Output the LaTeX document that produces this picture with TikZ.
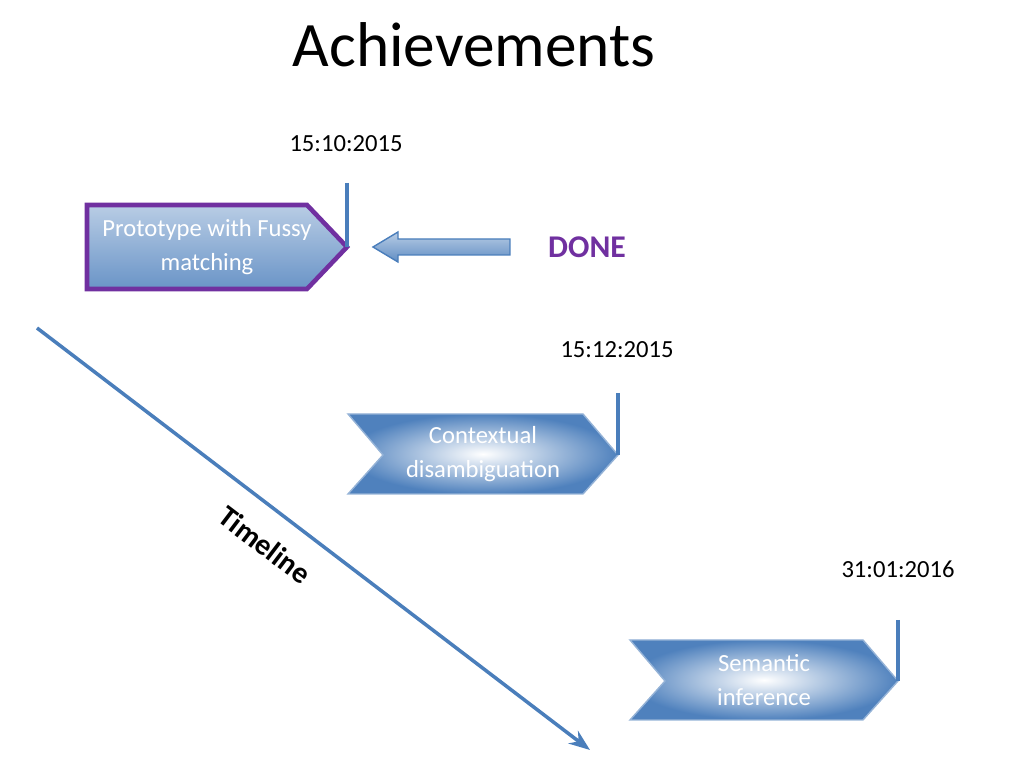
\documentclass[tikz,border=0pt]{standalone}
\usepackage{fontspec}
\setmainfont{Carlito}
\usetikzlibrary{arrows.meta}
\definecolor{chevblue}{RGB}{79,129,189}
\definecolor{lineblue}{RGB}{74,126,187}
\definecolor{donepurple}{RGB}{112,48,160}
\begin{document}
\begin{tikzpicture}[
        x=0.01cm, y=-0.01cm,
        chevron/.style={draw=chevblue!60,inner color=white,outer color=chevblue},
        firstbox/.style={draw=donepurple,line width=1.3pt,top color=chevblue!40,bottom color=chevblue!85},
        stem/.style={draw=lineblue,line width=1.2pt},
        datelabel/.style={font=\fontsize{7}{8}\selectfont},
        boxtext/.style={text=white,align=center,font=\fontsize{7}{9.5}\selectfont},
      ]
      \useasboundingbox (0,0) rectangle (1024,768);

      \node (title) at (474,45) {\fontsize{18}{20}\selectfont Achievements};

      % timeline
      \coordinate (tstart) at (37,328);
      \coordinate (tend) at (590,750);
      \draw[lineblue,line width=1pt,-{Stealth[length=6pt]}] (tstart) -- (tend);
      \node[rotate=-37.3,font=\bfseries\fontsize{8.5}{10}\selectfont] (tlabel) at (265,545) {Timeline};

      % first milestone
      \draw[firstbox] (87,205) -- (307,205) -- (347,247) -- (307,289) -- (87,289) -- cycle;
      \node[boxtext] (proto) at (207,247) {Prototype with Fussy\\matching};
      \coordinate (stemA) at (347,183);
      \coordinate (tipA) at (347,247);
      \draw[stem] (stemA) -- (tipA);
      \node[datelabel] (dateA) at (346,144) {15:10:2015};
      \node[text=donepurple,font=\bfseries\fontsize{9}{10}\selectfont] (done) at (587,247) {DONE};
      \draw[draw=lineblue,top color=chevblue!40,bottom color=chevblue!90]
        (510,239) -- (398,239) -- (398,232) -- (373,247) -- (398,262) -- (398,255) -- (510,255) -- cycle;

      % second milestone
      \draw[chevron] (348,414) -- (583,414) -- (618,455) -- (583,494) -- (348,494) -- (383,455) -- cycle;
      \node[boxtext] (context) at (483,454) {Contextual\\disambiguation};
      \coordinate (stemB) at (618,393);
      \coordinate (tipB) at (618,455);
      \draw[stem] (stemB) -- (tipB);
      \node[datelabel] (dateB) at (617,350) {15:12:2015};

      % third milestone
      \draw[chevron] (630,640) -- (863,640) -- (898,681) -- (863,720) -- (630,720) -- (665,681) -- cycle;
      \node[boxtext] (semantic) at (764,680) {Semantic\\inference};
      \coordinate (stemC) at (898,620);
      \coordinate (tipC) at (898,681);
      \draw[stem] (stemC) -- (tipC);
      \node[datelabel] (dateC) at (898,569) {31:01:2016};
    \end{tikzpicture}
\end{document}
